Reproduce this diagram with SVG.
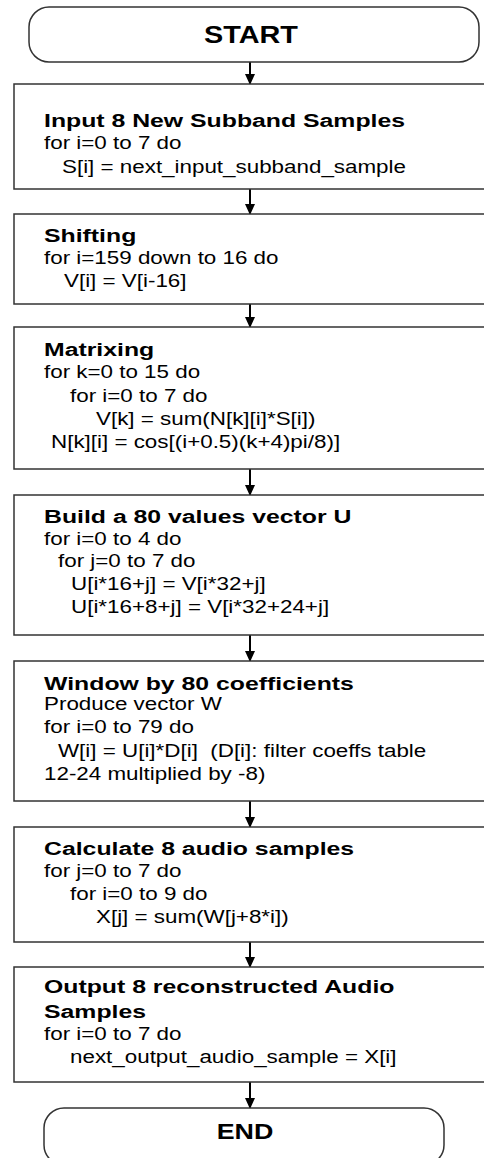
<svg xmlns="http://www.w3.org/2000/svg" width="484" height="1158" viewBox="0 0 484 1158">
<defs>
<style>
.box{fill:#fff;stroke:#333;stroke-width:1.5}
.t{font-family:"Liberation Sans",Arial,sans-serif;font-size:17.5px;fill:#000}
.h{font-family:"Liberation Sans",Arial,sans-serif;font-size:18.8px;font-weight:bold;fill:#000}
.term{font-family:"Liberation Sans",Arial,sans-serif;font-size:24px;font-weight:bold;fill:#000;text-anchor:middle}
.conn{stroke:#000;stroke-width:2;fill:none}
</style>
<marker id="arr" markerWidth="12" markerHeight="12" refX="10" refY="5" orient="auto" markerUnits="userSpaceOnUse">
<path d="M0,0 L11,5 L0,10 Z" fill="#000"/>
</marker>
</defs>
<rect width="484" height="1158" fill="#fff"/>
<g id="connectors">
<line class="conn" x1="250" y1="62" x2="250" y2="84" marker-end="url(#arr)"/>
<line class="conn" x1="250" y1="189" x2="250" y2="214" marker-end="url(#arr)"/>
<line class="conn" x1="250" y1="304" x2="250" y2="327" marker-end="url(#arr)"/>
<line class="conn" x1="250" y1="469" x2="250" y2="495" marker-end="url(#arr)"/>
<line class="conn" x1="250" y1="635" x2="250" y2="661" marker-end="url(#arr)"/>
<line class="conn" x1="250" y1="801" x2="250" y2="827" marker-end="url(#arr)"/>
<line class="conn" x1="250" y1="942" x2="250" y2="967" marker-end="url(#arr)"/>
<line class="conn" x1="250" y1="1082" x2="250" y2="1108" marker-end="url(#arr)"/>
</g>
<g id="start">
<rect class="box" x="29" y="7" width="450" height="55" rx="20" ry="20"/>
<text class="term" transform="matrix(1.2 0 0 1 251 43)">START</text>
</g>
<g id="input">
<rect class="box" x="14" y="84" width="474" height="105"/>
<text class="h" transform="matrix(1.32 0 0 1 44 127)">Input 8 New Subband Samples</text>
<text class="t" transform="matrix(1.28 0 0 1 44 149)">for i=0 to 7 do</text>
<text class="t" transform="matrix(1.28 0 0 1 62 173)">S[i] = next_input_subband_sample</text>
</g>
<g id="shifting">
<rect class="box" x="14" y="214" width="474" height="90"/>
<text class="h" transform="matrix(1.32 0 0 1 44 242)">Shifting</text>
<text class="t" transform="matrix(1.28 0 0 1 44 264)">for i=159 down to 16 do</text>
<text class="t" transform="matrix(1.28 0 0 1 64 287)">V[i] = V[i-16]</text>
</g>
<g id="matrixing">
<rect class="box" x="14" y="327" width="474" height="142"/>
<text class="h" transform="matrix(1.32 0 0 1 44 356)">Matrixing</text>
<text class="t" transform="matrix(1.28 0 0 1 44 378)">for k=0 to 15 do</text>
<text class="t" transform="matrix(1.28 0 0 1 70 402)">for i=0 to 7 do</text>
<text class="t" transform="matrix(1.28 0 0 1 96 425)">V[k] = sum(N[k][i]*S[i])</text>
<text class="t" transform="matrix(1.28 0 0 1 51 448)">N[k][i] = cos[(i+0.5)(k+4)pi/8)]</text>
</g>
<g id="build">
<rect class="box" x="14" y="495" width="474" height="140"/>
<text class="h" transform="matrix(1.32 0 0 1 44 523)">Build a 80 values vector U</text>
<text class="t" transform="matrix(1.28 0 0 1 44 545)">for i=0 to 4 do</text>
<text class="t" transform="matrix(1.28 0 0 1 58 567)">for j=0 to 7 do</text>
<text class="t" transform="matrix(1.28 0 0 1 71 590)">U[i*16+j] = V[i*32+j]</text>
<text class="t" transform="matrix(1.28 0 0 1 71 613)">U[i*16+8+j] = V[i*32+24+j]</text>
</g>
<g id="window">
<rect class="box" x="14" y="661" width="474" height="140"/>
<text class="h" transform="matrix(1.32 0 0 1 44 690)">Window by 80 coefficients</text>
<text class="t" transform="matrix(1.28 0 0 1 44 710)">Produce vector W</text>
<text class="t" transform="matrix(1.28 0 0 1 44 733)">for i=0 to 79 do</text>
<text class="t" transform="matrix(1.28 0 0 1 58 757)" xml:space="preserve">W[i] = U[i]*D[i]  (D[i]: filter coeffs table</text>
<text class="t" transform="matrix(1.28 0 0 1 44 780)">12-24 multiplied by -8)</text>
</g>
<g id="calculate">
<rect class="box" x="14" y="827" width="474" height="115"/>
<text class="h" transform="matrix(1.32 0 0 1 44 855)">Calculate 8 audio samples</text>
<text class="t" transform="matrix(1.28 0 0 1 44 877)">for j=0 to 7 do</text>
<text class="t" transform="matrix(1.28 0 0 1 70 900)">for i=0 to 9 do</text>
<text class="t" transform="matrix(1.28 0 0 1 96 923)">X[j] = sum(W[j+8*i])</text>
</g>
<g id="output">
<rect class="box" x="14" y="967" width="474" height="115"/>
<text class="h" transform="matrix(1.32 0 0 1 44 993)">Output 8 reconstructed Audio</text>
<text class="h" transform="matrix(1.32 0 0 1 44 1018)">Samples</text>
<text class="t" transform="matrix(1.28 0 0 1 44 1040)">for i=0 to 7 do</text>
<text class="t" transform="matrix(1.28 0 0 1 70 1063)">next_output_audio_sample = X[i]</text>
</g>
<g id="end">
<rect class="box" x="44" y="1108" width="400" height="57" rx="20" ry="20"/>
<text class="term" transform="matrix(1.22 0 0 1 245 1139)" style="font-size:22px">END</text>
</g>
</svg>
